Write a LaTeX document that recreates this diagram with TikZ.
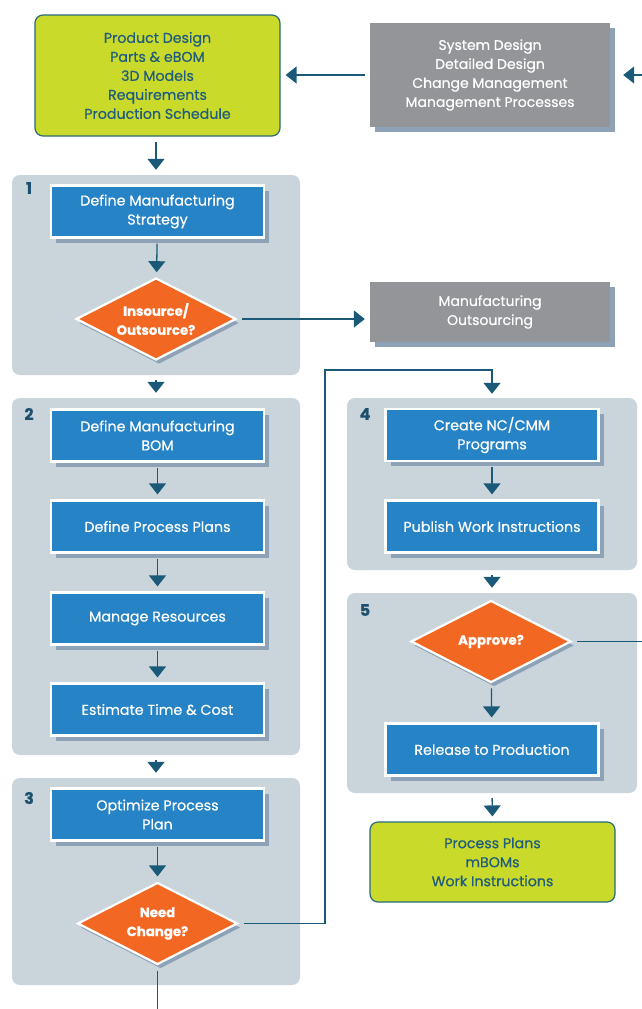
\documentclass[tikz,border=0pt]{standalone}
\usepackage{fontspec}
\setmainfont{Poppins}[FakeBold=0.5]
\usetikzlibrary{arrows.meta,shapes.geometric,shadows,calc}
\definecolor{greenfill}{HTML}{C9DA2A}
\definecolor{greenline}{HTML}{2A6B7C}
\definecolor{greentext}{HTML}{1F5C7D}
\definecolor{grayfill}{HTML}{939598}
\definecolor{shadowc}{HTML}{8DA1B7}
\definecolor{panelfill}{HTML}{C9D4DB}
\definecolor{bluefill}{HTML}{2683C6}
\definecolor{orangefill}{HTML}{F26722}
\definecolor{arrowc}{HTML}{1A5A78}
\definecolor{numc}{HTML}{1D4F6E}
\tikzset{
  panel/.style={fill=panelfill, rounded corners=8pt, minimum width=#1, inner sep=0pt},
  greenbox/.style={fill=greenfill, draw=greenline, line width=1.2pt, rounded corners=8pt,
     text=greentext, align=center, font=\fontsize{14.2}{19}\selectfont, inner sep=0pt},
  graybox/.style={fill=grayfill, text=white, align=center, font=\fontsize{14}{19}\selectfont,
     inner sep=0pt, minimum width=240pt,
     drop shadow={shadow xshift=5pt, shadow yshift=-5pt, fill=shadowc, opacity=1}},
  bluebox/.style={fill=bluefill, draw=white, line width=2.2pt, text=white, align=center,
     font=\fontsize{14.3}{19}\selectfont, minimum width=213pt, minimum height=52pt, inner sep=0pt,
     drop shadow={shadow xshift=5pt, shadow yshift=-5pt, fill=shadowc, opacity=1}},
  decision/.style={shape=diamond, fill=orangefill, draw=white, line width=2.2pt, text=white,
     align=center, font=\bfseries\fontsize{13.3}{19}\selectfont, inner sep=0pt, aspect=1.95,
     minimum width=160pt, minimum height=82pt,
     drop shadow={shadow xshift=3pt, shadow yshift=-4pt, fill=shadowc, opacity=1}},
  numlabel/.style={text=numc, font=\bfseries\fontsize{16}{16}\selectfont, inner sep=0pt},
  arr/.style={draw=arrowc, line width=1.3pt, -{Triangle[width=17pt,length=11pt]},
     shorten >=5pt, shorten <=5pt},
  ln/.style={draw=arrowc, line width=1.3pt},
}
\begin{document}
\begin{tikzpicture}[x=1pt,y=-1pt]
\useasboundingbox[fill=white] (0,0) rectangle (642,1009);
% panels
\node[panel=288pt, minimum height=200pt] (p1) at (156,275) {};
\node[panel=288pt, minimum height=357pt] (p2) at (156,576.5) {};
\node[panel=288pt, minimum height=207pt] (p3) at (156,881.5) {};
\node[panel=290pt, minimum height=172pt] (p4) at (492,484) {};
\node[panel=290pt, minimum height=200pt] (p5) at (492,693) {};
\node[numlabel] (n1) at (29,188) {1};
\node[numlabel] (n2) at (29,414) {2};
\node[numlabel] (n3) at (29,798) {3};
\node[numlabel] (n4) at (365,414) {4};
\node[numlabel] (n5) at (365,610) {5};
% top boxes
\node[greenbox, minimum width=245pt, minimum height=121pt] (g1) at (157.5,75.5)
  {Product Design\\Parts \& eBOM\\3D Models\\Requirements\\Production Schedule};
\node[graybox, minimum height=104pt] (gr1) at (490,75)
  {System Design\\Detailed Design\\Change Management\\Management Processes};
\node[graybox, minimum height=60pt] (gr2) at (490,312)
  {Manufacturing\\Outsourcing};
\node[greenbox, minimum width=245pt, minimum height=80pt] (g2) at (492.5,862)
  {Process Plans\\mBOMs\\Work Instructions};
% blue boxes
\node[bluebox] (b1) at (157.5,211.5) {Define Manufacturing\\Strategy};
\node[bluebox] (b2a) at (157.5,435.5) {Define Manufacturing\\BOM};
\node[bluebox] (b2b) at (157.5,526.5) {Define Process Plans};
\node[bluebox] (b2c) at (157.5,618.5) {Manage Resources};
\node[bluebox] (b2d) at (157.5,709.5) {Estimate Time \& Cost};
\node[bluebox] (b3) at (157.5,814.5) {Optimize Process\\Plan};
\node[bluebox] (b4a) at (492,435) {Create NC/CMM\\Programs};
\node[bluebox] (b4b) at (492,526.5) {Publish Work Instructions};
\node[bluebox] (b5) at (492,749.5) {Release to Production};
% decisions
\node[decision] (d1) at (156,319) {Insource/\\Outsource?};
\node[decision] (d3) at (157.5,923.5) {Need\\Change?};
\node[decision] (d5) at (491,641.5) {Approve?};
% connectors
\coordinate (rin) at (642,75);
\coordinate (aout) at (642,641.5);
\coordinate (bout) at (157.5,1009);
\coordinate (c1) at (325,923.5);
\coordinate (c2) at (325,370);
\coordinate (c3) at (492,370);
\draw[arr] (gr1.west) -- (gr1.west -| g1.east);
\draw[arr, shorten >=13pt, shorten <=0pt] (rin) -- (gr1.east);
\draw[arr] (g1.south -| p1.north) -- (p1.north);
\draw[arr] (b1) -- (d1);
\draw[arr] (d1.east) -- (d1.east -| gr2.west);
\draw[arr] (p1.south) -- (p2.north);
\draw[arr] (b2a) -- (b2b);
\draw[arr] (b2b) -- (b2c);
\draw[arr] (b2c) -- (b2d);
\draw[arr] (p2.south) -- (p3.north);
\draw[arr] (b3.south -| d3.north) -- (d3.north);
\draw[arr, shorten >=4pt] (d3.east) -- (c1) -- (c2) -- (c3) -- (p4.north -| c3);
\draw[arr] (b4a) -- (b4b);
\draw[arr] (p4.south) -- (p5.north);
\draw[ln, shorten <=5pt] (d5.east) -- (aout);
\draw[arr] (d5) -- (b5);
\draw[arr] (p5.south) -- (g2.north);
\draw[ln, shorten <=5pt] (d3.south) -- (bout);
\end{tikzpicture}
\end{document}
